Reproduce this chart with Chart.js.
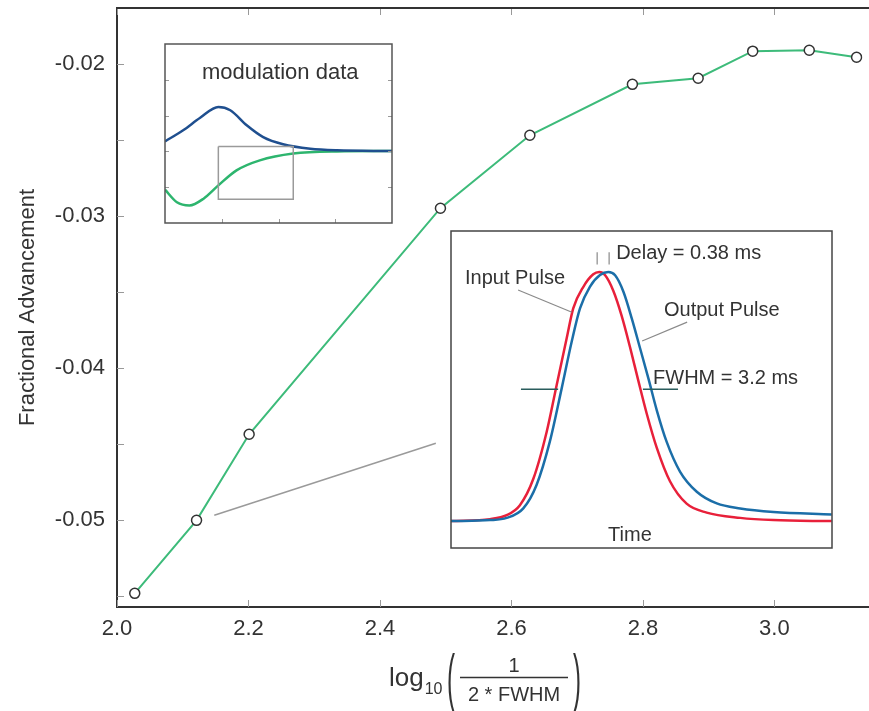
<!DOCTYPE html>
<html>
<head>
<meta charset="utf-8">
<script src="https://cdn.jsdelivr.net/npm/chart.js@4.4.0/dist/chart.umd.min.js"></script>
<style>
  html, body { margin: 0; padding: 0; background: #fff; }
  #wrap { position: relative; width: 869px; height: 711px; }
  #main { position: absolute; left: 0; top: 0; }
  #inset1 { position: absolute; left: 164px; top: 43px; }
  #inset2 { position: absolute; left: 450px; top: 230px; }
</style>
</head>
<body>
<div id="wrap">
  <canvas id="main" width="869" height="711"></canvas>
  <canvas id="inset1" width="229" height="181"></canvas>
  <canvas id="inset2" width="383" height="319"></canvas>
</div>
<script>
// main plot: fractional advancement vs log10(1/(2*FWHM))
const xVals = [2.027, 2.121, 2.201, 2.492, 2.628, 2.784, 2.884, 2.967, 3.053, 3.125];
const yVals = [-0.0548, -0.0500, -0.04434, -0.02947, -0.02467, -0.02132, -0.02092, -0.01914, -0.01908, -0.01954];
const xTickVals = [2.0, 2.2, 2.4, 2.6, 2.8, 3.0];
const yTickVals = [-0.055, -0.05, -0.045, -0.04, -0.035, -0.03, -0.025, -0.02];
const yLabelVals = [-0.05, -0.04, -0.03, -0.02];

// grey pointer from the 2.12 point to the pulse inset
const leadX = [2.148, 2.485];
const leadY = [-0.04967, -0.04493];

// inset 1: modulation data
const modBlueX = [0, 0.32, 0.62, 0.94, 1.15, 1.44, 1.73, 2.08, 2.56, 3.03, 4];
const modBlueY = [0.28, 0.59, 0.94, 1.24, 1.15, 0.73, 0.40, 0.20, 0.075, 0.03, 0.01];
const modGreenX = [0, 0.21, 0.43, 0.68, 0.94, 1.26, 1.67, 2.26, 3.03, 4];
const modGreenY = [-1.07, -1.42, -1.51, -1.32, -0.95, -0.53, -0.25, -0.06, 0, 0.01];
const zoomBoxX = [0.94, 2.26, 2.26, 0.94, 0.94];
const zoomBoxY = [0.14, 0.14, -1.34, -1.34, 0.14];

// inset 2: input / output pulse (time in ms, normalised amplitude)
const inT = [0, 1.50, 2.14, 2.65, 3.17, 3.68, 4.06, 4.45, 4.70, 5.09, 5.47, 5.70, 5.92, 6.24, 6.56, 6.88, 7.20, 7.53, 7.91, 8.42, 9.06, 9.83, 11.12, 12.40, 14.64];
const inA = [0, 0.008, 0.024, 0.064, 0.171, 0.359, 0.545, 0.735, 0.854, 0.941, 0.991, 1.0, 0.988, 0.925, 0.825, 0.700, 0.565, 0.430, 0.295, 0.160, 0.070, 0.034, 0.013, 0.004, 0];
const outT = [0, 1.50, 2.14, 2.78, 3.29, 3.80, 4.25, 4.64, 4.96, 5.34, 5.73, 6.05, 6.31, 6.63, 6.95, 7.27, 7.59, 7.91, 8.29, 8.81, 9.45, 10.22, 11.12, 12.40, 14.64];
const outA = [0, 0.004, 0.013, 0.051, 0.145, 0.319, 0.53, 0.72, 0.854, 0.941, 0.988, 1.0, 0.987, 0.921, 0.814, 0.694, 0.573, 0.446, 0.319, 0.198, 0.118, 0.071, 0.051, 0.037, 0.027];

const FONT = '"Liberation Sans", Arial, Helvetica, sans-serif';
const TXT = '#333';

function pts(xs, ys) {
  return xs.map((v, i) => ({ x: v, y: ys[i] }));
}

// tick marks pointing into the plot, plus the top frame and the x title
const mainExtras = {
  id: 'mainExtras',
  afterDraw(chart) {
    const { ctx, chartArea: a, scales: { x, y } } = chart;
    ctx.save();
    ctx.strokeStyle = '#999';
    ctx.lineWidth = 1;
    ctx.beginPath();
    x.ticks.forEach(t => {
      const p = Math.round(x.getPixelForValue(t.value)) + 0.5;
      ctx.moveTo(p, a.bottom); ctx.lineTo(p, a.bottom - 7);
      ctx.moveTo(p, a.top); ctx.lineTo(p, a.top + 7);
    });
    y.ticks.forEach(t => {
      const p = Math.round(y.getPixelForValue(t.value)) + 0.5;
      ctx.moveTo(a.left, p); ctx.lineTo(a.left + 7, p);
    });
    ctx.stroke();

    // frame runs on past the right edge of the picture
    ctx.strokeStyle = '#333';
    ctx.lineWidth = 2;
    ctx.beginPath();
    ctx.moveTo(a.left, a.top);
    ctx.lineTo(chart.width, a.top);
    ctx.moveTo(a.right - 2, a.bottom);
    ctx.lineTo(chart.width, a.bottom);
    ctx.stroke();

    // x title: log10( 1 / (2 * FWHM) )
    ctx.fillStyle = TXT;
    ctx.textBaseline = 'alphabetic';
    ctx.textAlign = 'left';
    ctx.font = '26px ' + FONT;
    ctx.fillText('log', 389, 686);
    const lw = ctx.measureText('log').width;
    ctx.font = '16px ' + FONT;
    ctx.fillText('10', 389 + lw + 1, 694);
    ctx.save();
    ctx.font = '24px ' + FONT;
    ctx.textAlign = 'center';
    ctx.translate(451, 700);
    ctx.scale(1, 2.7);
    ctx.fillText('(', 0, 0);
    ctx.restore();
    ctx.save();
    ctx.font = '24px ' + FONT;
    ctx.textAlign = 'center';
    ctx.translate(577, 700);
    ctx.scale(1, 2.7);
    ctx.fillText(')', 0, 0);
    ctx.restore();
    ctx.font = '20px ' + FONT;
    ctx.textAlign = 'center';
    ctx.fillText('1', 514, 672);
    ctx.fillText('2 * FWHM', 514, 701);
    ctx.strokeStyle = TXT;
    ctx.lineWidth = 1.5;
    ctx.beginPath();
    ctx.moveTo(460, 677.5);
    ctx.lineTo(568, 677.5);
    ctx.stroke();
    ctx.restore();
  }
};

new Chart(document.getElementById('main').getContext('2d'), {
  type: 'line',
  data: {
    datasets: [{
      label: 'pointer',
      data: pts(leadX, leadY),
      borderColor: '#9a9a9a',
      borderWidth: 1.5,
      pointRadius: 0
    }, {
      label: 'Fractional Advancement',
      data: pts(xVals, yVals),
      borderColor: '#3dbb7a',
      borderWidth: 2,
      pointRadius: 5,
      pointBorderColor: '#333',
      pointBorderWidth: 1.5,
      pointBackgroundColor: '#fff'
    }]
  },
  options: {
    responsive: false,
    animation: false,
    events: [],
    layout: { padding: { left: 0, top: 8, right: 1, bottom: 0 } },
    plugins: { legend: { display: false }, tooltip: { enabled: false } },
    scales: {
      x: {
        type: 'linear',
        min: 2.0,
        max: 3.134,
        afterBuildTicks: s => { s.ticks = xTickVals.map(v => ({ value: v })); },
        afterFit: s => { s.height = 104; s.paddingLeft = 0; s.paddingRight = 0; },
        grid: { display: false, drawTicks: false },
        border: { display: true, color: '#333', width: 2 },
        ticks: {
          padding: 9,
          color: TXT,
          font: { family: FONT, size: 22 },
          maxRotation: 0,
          callback: v => v.toFixed(1)
        }
      },
      y: {
        type: 'linear',
        min: -0.0557,
        max: -0.0163,
        afterBuildTicks: s => { s.ticks = yTickVals.map(v => ({ value: v })); },
        afterFit: s => { s.width = 117; s.paddingTop = 0; s.paddingBottom = 0; },
        grid: { display: false, drawTicks: false },
        border: { display: true, color: '#333', width: 2 },
        title: {
          display: true,
          text: 'Fractional Advancement',
          color: TXT,
          font: { family: FONT, size: 22 },
          padding: { top: 15, bottom: 0 }
        },
        ticks: {
          padding: 12,
          color: TXT,
          font: { family: FONT, size: 22 },
          callback: v => yLabelVals.some(m => Math.abs(m - v) < 1e-9) ? v.toFixed(2) : ''
        }
      }
    }
  },
  plugins: [mainExtras]
});

// inset 1 frame, ticks and caption
const modExtras = {
  id: 'modExtras',
  afterDraw(chart) {
    const { ctx, chartArea: a, scales: { x, y } } = chart;
    ctx.save();
    ctx.strokeStyle = '#999';
    ctx.lineWidth = 1;
    ctx.beginPath();
    [1, 2, 3].forEach(v => {
      const p = Math.round(x.getPixelForValue(v)) + 0.5;
      ctx.moveTo(p, a.bottom); ctx.lineTo(p, a.bottom - 4);
    });
    [2, 1, 0, -1].forEach(v => {
      const p = Math.round(y.getPixelForValue(v)) + 0.5;
      ctx.moveTo(a.left, p); ctx.lineTo(a.left + 4, p);
      ctx.moveTo(a.right, p); ctx.lineTo(a.right - 4, p);
    });
    ctx.stroke();
    ctx.strokeStyle = '#555';
    ctx.lineWidth = 1.5;
    ctx.strokeRect(a.left, a.top, a.right - a.left, a.bottom - a.top);
    ctx.fillStyle = TXT;
    ctx.font = '22px ' + FONT;
    ctx.textAlign = 'center';
    ctx.textBaseline = 'middle';
    ctx.fillText('modulation data', x.getPixelForValue(2.03), y.getPixelForValue(2.18));
    ctx.restore();
  }
};

new Chart(document.getElementById('inset1').getContext('2d'), {
  type: 'line',
  data: {
    datasets: [{
      label: 'zoom box',
      data: pts(zoomBoxX, zoomBoxY),
      borderColor: '#9a9a9a',
      borderWidth: 1.5,
      pointRadius: 0
    }, {
      label: 'blue',
      data: pts(modBlueX, modBlueY),
      borderColor: '#1f4f8f',
      borderWidth: 2.5,
      pointRadius: 0,
      cubicInterpolationMode: 'monotone'
    }, {
      label: 'green',
      data: pts(modGreenX, modGreenY),
      borderColor: '#2db56e',
      borderWidth: 2.5,
      pointRadius: 0,
      cubicInterpolationMode: 'monotone'
    }]
  },
  options: {
    responsive: false,
    animation: false,
    events: [],
    layout: { padding: 1 },
    plugins: { legend: { display: false }, tooltip: { enabled: false } },
    scales: {
      x: { type: 'linear', min: 0, max: 4, display: false },
      y: { type: 'linear', min: -2, max: 3, display: false }
    }
  },
  plugins: [{
    id: 'white1',
    beforeDraw(chart) {
      chart.ctx.save();
      chart.ctx.fillStyle = '#fff';
      chart.ctx.fillRect(0, 0, chart.width, chart.height);
      chart.ctx.restore();
    }
  }, modExtras]
});

// inset 2 annotations
const notes = [
  { text: 'Delay = 0.38 ms', t: 6.35, a: 1.075 },
  { text: 'Input Pulse', t: 0.54, a: 0.976 },
  { text: 'Output Pulse', t: 8.19, a: 0.847 },
  { text: 'FWHM = 3.2 ms', t: 7.77, a: 0.572 }
];
const pulseExtras = {
  id: 'pulseExtras',
  afterDraw(chart) {
    const { ctx, chartArea: a, scales: { x, y } } = chart;
    ctx.save();
    ctx.fillStyle = TXT;
    ctx.font = '20px ' + FONT;
    ctx.textBaseline = 'middle';
    ctx.textAlign = 'left';
    notes.forEach(n => ctx.fillText(n.text, x.getPixelForValue(n.t), y.getPixelForValue(n.a)));
    ctx.textAlign = 'center';
    ctx.fillText('Time', x.getPixelForValue(6.88), y.getPixelForValue(-0.056));
    ctx.strokeStyle = '#444';
    ctx.lineWidth = 1.5;
    ctx.strokeRect(a.left, a.top, a.right - a.left, a.bottom - a.top);
    ctx.restore();
  }
};

const grey = { borderColor: '#8a8a8a', borderWidth: 1.2, pointRadius: 0 };
const teal = { borderColor: '#2a5d5d', borderWidth: 1.5, pointRadius: 0 };

new Chart(document.getElementById('inset2').getContext('2d'), {
  type: 'line',
  data: {
    datasets: [
      Object.assign({ label: 'input lead', data: pts([2.58, 4.65], [0.928, 0.839]) }, grey),
      Object.assign({ label: 'output lead', data: pts([9.08, 7.35], [0.799, 0.723]) }, grey),
      Object.assign({ label: 'delay 1', data: pts([5.62, 5.62], [1.08, 1.03]) }, grey),
      Object.assign({ label: 'delay 2', data: pts([6.08, 6.08], [1.08, 1.03]) }, grey),
      Object.assign({ label: 'fwhm left', data: pts([2.69, 4.12], [0.53, 0.53]) }, teal),
      Object.assign({ label: 'fwhm right', data: pts([7.38, 8.73], [0.53, 0.53]) }, teal),
      {
        label: 'Output Pulse',
        data: pts(outT, outA),
        borderColor: '#1b6ea8',
        borderWidth: 2.5,
        pointRadius: 0,
        cubicInterpolationMode: 'monotone'
      }, {
        label: 'Input Pulse',
        data: pts(inT, inA),
        borderColor: '#e8203a',
        borderWidth: 2.5,
        pointRadius: 0,
        cubicInterpolationMode: 'monotone'
      }
    ]
  },
  options: {
    responsive: false,
    animation: false,
    events: [],
    layout: { padding: 1 },
    plugins: { legend: { display: false }, tooltip: { enabled: false } },
    scales: {
      x: { type: 'linear', min: 0, max: 14.65, display: false },
      y: { type: 'linear', min: -0.108, max: 1.165, display: false }
    }
  },
  plugins: [{
    id: 'white2',
    beforeDraw(chart) {
      chart.ctx.save();
      chart.ctx.fillStyle = '#fff';
      chart.ctx.fillRect(0, 0, chart.width, chart.height);
      chart.ctx.restore();
    }
  }, pulseExtras]
});
</script>
</body>
</html>
